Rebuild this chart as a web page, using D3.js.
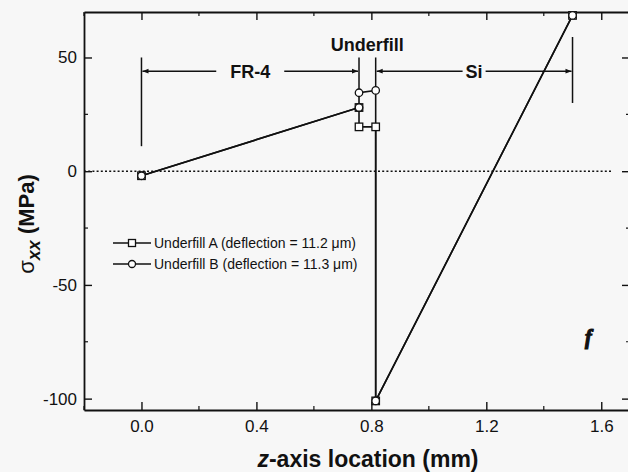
<!DOCTYPE html>
<html>
<head>
<meta charset="utf-8">
<script src="https://cdn.jsdelivr.net/npm/d3@7/dist/d3.min.js"></script>
<style>
  html, body { margin: 0; padding: 0; background: #f7f7f7; }
  svg { display: block; font-family: "Liberation Sans", Arial, Helvetica, sans-serif; }
</style>
</head>
<body>
<svg id="chart" width="628" height="472"></svg>
<script>
// Stress sigma_xx along the z-axis through FR-4 / underfill / Si
const seriesNames = ["Underfill A (deflection = 11.2 \u03bcm)", "Underfill B (deflection = 11.3 \u03bcm)"];
const seriesShapes = ["square", "circle"];
const zA = [0, 0.757, 0.757, 0.815, 0.815, 1.5];
const sA = [-2, 28, 19.5, 19.5, -101, 68.5];
const zB = [0, 0.757, 0.757, 0.815, 0.815, 1.5];
const sB = [-2, 28, 34.5, 35.5, -101, 68.5];

const xTicks = [0.0, 0.4, 0.8, 1.2, 1.6];
const xTickLabels = ["0.0", "0.4", "0.8", "1.2", "1.6"];
const xMinor = [-0.2, 0.2, 0.6, 1.0, 1.4];
const yTicks = [-100, -50, 0, 50];
const yTickLabels = ["-100", "-50", "0", "50"];
const yMinor = [-75, -25, 25];

// Layer regions: name, start, end
const regionNames = ["FR-4", "Si"];
const regionStart = [0, 0.815];
const regionEnd = [0.757, 1.5];
const arrowLevel = 44;
// Boundary ticks: z, top, bottom (MPa)
const boundZ = [0, 0.757, 0.815, 1.5];
const boundTop = [50, 50, 50, 59];
const boundBottom = [11, 35, 36, 30];

const svg = d3.select("#chart");
const M = { left: 84, right: 630, top: 12, bottom: 410 };

const x = d3.scaleLinear().domain([-0.2, 1.7]).range([M.left, M.right]);
const y = d3.scaleLinear().domain([-105, 70]).range([M.bottom, M.top]);

// Arrowhead marker
const defs = svg.append("defs");
defs.append("marker")
  .attr("id", "arr-end")
  .attr("viewBox", "0 0 10 10")
  .attr("refX", 10).attr("refY", 5)
  .attr("markerWidth", 9).attr("markerHeight", 6)
  .attr("markerUnits", "userSpaceOnUse")
  .attr("orient", "auto")
  .append("path")
  .attr("d", "M0,1 L10,5 L0,9 Z")
  .attr("fill", "#111");

// Zero reference line
svg.append("line")
  .attr("x1", x(-0.2)).attr("x2", x(1.64))
  .attr("y1", y(0)).attr("y2", y(0))
  .attr("stroke", "#111").attr("stroke-width", 1.4)
  .attr("stroke-dasharray", "2,2.2");

// Axes with inward ticks on all four sides
function styleAxis(g) {
  g.select(".domain").attr("stroke", "#111").attr("stroke-width", 1.8);
  g.selectAll(".tick line").attr("stroke", "#111").attr("stroke-width", 1.4);
  g.selectAll("text").attr("fill", "#111").attr("font-size", 17);
}
const gx = svg.append("g").attr("transform", `translate(0,${M.bottom})`)
  .call(d3.axisBottom(x).tickValues(xTicks).tickFormat((d, i) => xTickLabels[i])
    .tickSizeInner(-8).tickSizeOuter(0).tickPadding(10));
styleAxis(gx);
const gxt = svg.append("g").attr("transform", `translate(0,${M.top})`)
  .call(d3.axisTop(x).tickValues(xTicks).tickFormat("").tickSizeInner(-8).tickSizeOuter(0));
styleAxis(gxt);
const gy = svg.append("g").attr("transform", `translate(${M.left},0)`)
  .call(d3.axisLeft(y).tickValues(yTicks).tickFormat((d, i) => yTickLabels[i])
    .tickSizeInner(-8).tickSizeOuter(0).tickPadding(7));
styleAxis(gy);
const gyr = svg.append("g").attr("transform", `translate(${M.right},0)`)
  .call(d3.axisRight(y).tickValues(yTicks).tickFormat("").tickSizeInner(-8).tickSizeOuter(0));
styleAxis(gyr);

// Minor ticks
const minor = svg.append("g").attr("stroke", "#111").attr("stroke-width", 1.2);
xMinor.forEach(v => {
  minor.append("line").attr("x1", x(v)).attr("x2", x(v)).attr("y1", M.bottom).attr("y2", M.bottom - 4);
  minor.append("line").attr("x1", x(v)).attr("x2", x(v)).attr("y1", M.top).attr("y2", M.top + 4);
});
yMinor.forEach(v => {
  minor.append("line").attr("x1", M.left).attr("x2", M.left + 4).attr("y1", y(v)).attr("y2", y(v));
  minor.append("line").attr("x1", M.right).attr("x2", M.right - 4).attr("y1", y(v)).attr("y2", y(v));
});

// Layer boundaries and dimension arrows
const ann = svg.append("g").attr("stroke", "#111").attr("stroke-width", 1.5);
boundZ.forEach((z, i) => {
  ann.append("line").attr("x1", x(z)).attr("x2", x(z)).attr("y1", y(boundTop[i])).attr("y2", y(boundBottom[i]));
});
regionNames.forEach((name, i) => {
  const mid = (regionStart[i] + regionEnd[i]) / 2;
  const t = svg.append("text")
    .attr("x", x(mid)).attr("y", y(arrowLevel) + 6.5)
    .attr("text-anchor", "middle").attr("font-weight", "bold").attr("font-size", 18)
    .attr("fill", "#111").text(name);
  const w = t.node().getComputedTextLength();
  const gap = name === "Si" ? 3 : 14;
  ann.append("line")
    .attr("x1", x(mid) - w / 2 - gap).attr("x2", x(regionStart[i]) + 1)
    .attr("y1", y(arrowLevel)).attr("y2", y(arrowLevel))
    .attr("marker-end", "url(#arr-end)");
  ann.append("line")
    .attr("x1", x(mid) + w / 2 + gap).attr("x2", x(regionEnd[i]) - 1)
    .attr("y1", y(arrowLevel)).attr("y2", y(arrowLevel))
    .attr("marker-end", "url(#arr-end)");
});
svg.append("text")
  .attr("x", x((boundZ[1] + boundZ[2]) / 2)).attr("y", y(53))
  .attr("text-anchor", "middle").attr("font-weight", "bold").attr("font-size", 18)
  .attr("fill", "#111").text("Underfill");

// Data series
const line = d3.line().x(d => x(d[0])).y(d => y(d[1]));
const dataA = zA.map((z, i) => [z, sA[i]]);
const dataB = zB.map((z, i) => [z, sB[i]]);
[dataA, dataB].forEach(d => {
  svg.append("path").datum(d).attr("d", line)
    .attr("fill", "none").attr("stroke", "#111").attr("stroke-width", 1.6);
});

function drawMarker(g, shape, cx, cy, size) {
  if (shape === "square") {
    g.append("rect").attr("x", cx - size / 2).attr("y", cy - size / 2)
      .attr("width", size).attr("height", size)
      .attr("fill", "#fff").attr("stroke", "#111").attr("stroke-width", 1.3);
  } else {
    g.append("circle").attr("cx", cx).attr("cy", cy).attr("r", size / 2)
      .attr("fill", "#fff").attr("stroke", "#111").attr("stroke-width", 1.3);
  }
}
const marks = svg.append("g");
dataA.forEach(d => drawMarker(marks, "square", x(d[0]), y(d[1]), 7.5));
dataB.forEach(d => drawMarker(marks, "circle", x(d[0]), y(d[1]), 7.5));

// Legend
const leg = svg.append("g");
seriesNames.forEach((name, i) => {
  const ly = 243 + i * 21;
  leg.append("line").attr("x1", 113).attr("x2", 151).attr("y1", ly).attr("y2", ly)
    .attr("stroke", "#111").attr("stroke-width", 1.4);
  drawMarker(leg, seriesShapes[i], 132, ly, 7);
  leg.append("text").attr("x", 154).attr("y", ly + 5)
    .attr("font-size", 14).attr("fill", "#111").text(name);
});

// Axis titles
const xt = svg.append("text")
  .attr("x", 368).attr("y", 467)
  .attr("text-anchor", "middle").attr("font-weight", "bold").attr("font-size", 23).attr("fill", "#111");
xt.append("tspan").attr("font-style", "italic").text("z");
xt.append("tspan").text("-axis location (mm)");

const yt = svg.append("text")
  .attr("transform", "translate(34,224) rotate(-90)")
  .attr("text-anchor", "middle").attr("font-size", 22).attr("fill", "#111");
yt.append("tspan").text("\u03c3");
yt.append("tspan").attr("font-weight", "bold").attr("font-style", "italic")
  .attr("font-size", 18).attr("dy", 6).text("xx");
yt.append("tspan").attr("font-weight", "bold").attr("dy", -6).text(" (MPa)");

// Small stray mark in the lower right
svg.append("text").attr("x", 585).attr("y", 344)
  .attr("font-size", 20).attr("font-weight", "bold").attr("font-style", "italic")
  .attr("font-family", "Liberation Serif, serif").attr("fill", "#111")
  .attr("stroke", "#111").attr("stroke-width", 1.2).text("f");
</script>
</body>
</html>
